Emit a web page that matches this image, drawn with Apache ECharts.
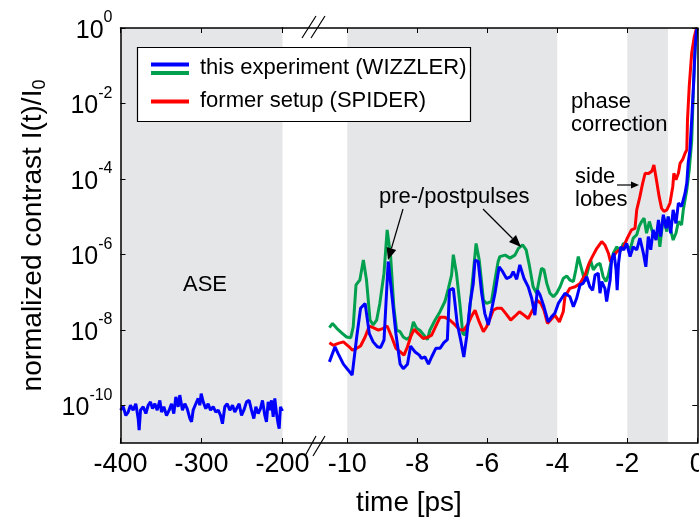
<!DOCTYPE html>
<html><head><meta charset="utf-8">
<script src="https://cdn.jsdelivr.net/npm/echarts@6/dist/echarts.min.js"></script>
<style>html,body{margin:0;padding:0;background:#fff}#c{width:699px;height:521px}</style>
</head><body><div id="c"></div>
<script>
// ---- data (time in ps, contrast stored as log10 of I(t)/I0) ----
const aseTime = [-400,-396.7,-393.4,-390.5,-387.7,-384.4,-381.1,-378.2,-377,-375.3,-372,-368.7,-365.8,-363,-360.5,-357.6,-354.7,-351.4,-349.4,-346.5,-343.2,-339.9,-337,-334.2,-331.7,-328.8,-326.8,-323.5,-320.6,-317.7,-314.4,-312.3,-310.3,-307,-304.1,-302.1,-300.4,-297.9,-294.7,-291.8,-288.9,-285.6,-282.3,-279.4,-276.5,-274.1,-271.2,-268.3,-265,-261.7,-258.9,-256.8,-253.5,-250.6,-247.7,-244.4,-241.2,-238.3,-235.4,-232.9,-230,-227.2,-224.7,-221.8,-219.8,-217.7,-215.7,-213.6,-211.5,-209.5,-207.4,-205.4,-204.1,-202.5,-200.8,-200];
const aseLog = [-10.13,-10.04,-10.27,-10.18,-10.00,-10.13,-9.96,-10.35,-10.66,-10.13,-10.04,-10.22,-10.00,-9.91,-10.09,-9.96,-10.13,-9.87,-10.18,-10.04,-10.27,-10.13,-9.96,-10.22,-9.78,-10.04,-9.73,-10.13,-9.96,-10.09,-10.35,-10.44,-10.13,-9.96,-9.82,-10.00,-9.69,-9.91,-10.09,-9.96,-10.13,-10.04,-10.18,-10.13,-10.27,-10.49,-10.04,-9.96,-10.13,-10.00,-10.18,-10.13,-9.96,-10.27,-10.13,-9.91,-9.87,-10.13,-10.35,-10.04,-10.22,-10.09,-9.87,-10.27,-10.44,-9.91,-10.13,-9.87,-10.31,-9.82,-10.22,-10.49,-10.62,-10.04,-10.13,-10.10];

const greenTime = [-10.51,-10.42,-10.30,-10.16,-10.02,-9.90,-9.83,-9.75,-9.64,-9.54,-9.45,-9.35,-9.26,-9.16,-9.07,-8.95,-8.86,-8.76,-8.67,-8.59,-8.49,-8.40,-8.30,-8.21,-8.11,-8.02,-7.92,-7.81,-7.71,-7.64,-7.49,-7.35,-7.21,-7.11,-7.02,-6.97,-6.88,-6.78,-6.70,-6.64,-6.54,-6.42,-6.32,-6.23,-6.11,-6.02,-5.88,-5.78,-5.69,
  -5.64,-5.49,-5.35,-5.21,-5.11,-4.99,-4.89,-4.80,-4.69,-4.59,-4.51,-4.45,-4.38,-4.30,-4.21,-4.11,-4.02,-3.92,-3.83,-3.73,-3.64,-3.54,-3.47,-3.40,-3.30,-3.21,-3.11,-3.05,-2.97,-2.87,-2.78,-2.69,-2.61,-2.54,-2.48,-2.40,-2.30,-2.21,-2.11,-2.02,-1.92,-1.83,-1.73,-1.66,-1.59,-1.52,-1.45,-1.37,-1.30,-1.21,-1.11,-1.07,-0.97,-0.87,-0.83,-0.76,-0.69,-0.61,-0.54,-0.45,-0.40,-0.30,-0.23,-0.16,-0.11,-0.06,-0.02,0];
const greenLog = [-7.94,-7.83,-7.96,-8.08,-8.19,-8.21,-7.92,-6.81,-6.68,-6.15,-6.68,-7.74,-7.87,-7.74,-7.30,-6.50,-5.35,-6.06,-7.39,-8.01,-8.05,-8.19,-8.25,-8.19,-7.79,-7.96,-8.02,-8.14,-8.26,-8.01,-7.74,-7.52,-7.25,-6.90,-6.55,-6.01,-6.50,-7.34,-8.10,-8.14,-7.83,-6.68,-5.71,-6.15,-7.21,-7.30,-7.25,-6.68,-6.19,
  -6.06,-6.02,-6.10,-6.02,-5.84,-5.75,-5.88,-6.28,-6.86,-7.03,-6.64,-6.37,-6.41,-6.77,-7.03,-7.12,-7.03,-6.86,-6.64,-6.57,-6.68,-6.72,-6.41,-6.06,-6.41,-6.72,-6.37,-6.15,-6.41,-6.28,-6.24,-6.59,-6.72,-6.55,-6.28,-5.97,-5.80,-5.93,-5.71,-5.75,-5.88,-5.57,-5.48,-5.26,-5.13,-5.04,-5.44,-5.13,-5.35,-5.57,-5.44,-5.80,-5.00,-5.40,-5.00,-5.35,-5.62,-5.44,-5.13,-5.22,-4.82,-4.29,-3.76,-3.00,-1.60,-0.50,-0.05,0];

const redTime = [-10.51,-10.40,-10.26,-10.11,-9.97,-9.85,-9.73,-9.62,-9.49,-9.37,-9.26,-9.11,-8.97,-8.86,-8.73,-8.61,-8.49,-8.38,-8.28,-8.19,-8.09,-7.97,-7.83,-7.68,-7.59,-7.47,-7.35,-7.21,-7.07,-6.92,-6.80,-6.67,-6.54,-6.45,-6.35,-6.23,-6.11,-6.02,-5.92,-5.83,-5.73,-5.59,-5.47,-5.33,-5.21,-5.08,-4.95,-4.83,-4.68,-4.59,-4.47,-4.38,-4.28,-4.19,-4.07,-3.94,-3.83,-3.78,
  -3.64,-3.49,-3.35,-3.21,-3.11,-3.02,-2.87,-2.73,-2.64,-2.54,-2.48,-2.40,-2.30,-2.21,-2.11,-2.00,-1.88,-1.78,-1.73,-1.64,-1.56,-1.49,-1.40,-1.30,-1.24,-1.16,-1.09,-1.02,-0.95,-0.87,-0.78,-0.70,-0.67,-0.61,-0.54,-0.49,-0.42,-0.35,-0.30,-0.28,-0.23,-0.16,-0.09,-0.03,0];
const redLog = [-8.34,-8.41,-8.36,-8.32,-8.43,-8.54,-8.49,-8.43,-8.19,-7.90,-7.94,-8.01,-7.96,-7.90,-8.19,-8.49,-8.58,-8.67,-8.45,-8.19,-7.99,-8.10,-8.23,-8.19,-8.14,-7.90,-7.67,-7.67,-7.74,-7.87,-7.99,-8.01,-7.83,-7.64,-7.48,-7.79,-8.05,-7.92,-7.70,-7.48,-7.43,-7.43,-7.57,-7.74,-7.64,-7.52,-7.61,-7.70,-7.43,-7.21,-7.30,-7.48,-7.83,-7.74,-7.61,-7.79,-7.52,-7.12,
  -6.90,-6.86,-6.77,-6.55,-6.28,-6.10,-5.84,-5.66,-5.75,-5.97,-6.19,-6.06,-5.93,-5.88,-5.80,-5.57,-5.35,-5.31,-4.82,-4.47,-4.11,-3.85,-3.86,-3.80,-3.63,-4.07,-4.47,-4.78,-4.86,-4.82,-4.64,-4.20,-3.85,-4.02,-3.85,-3.58,-3.49,-3.32,-3.23,-2.43,-1.54,-0.66,-0.25,-0.03,0];

const blueTime = [-10.51,-10.35,-10.26,-10.11,-9.97,-9.86,-9.73,-9.62,-9.49,-9.37,-9.26,-9.14,-9.05,-8.95,-8.83,-8.73,-8.61,-8.49,-8.40,-8.28,-8.19,-8.07,-7.94,-7.88,-7.78,-7.68,-7.59,-7.47,-7.35,-7.24,-7.14,-7.08,-6.97,-6.86,-6.76,-6.67,-6.59,-6.49,-6.40,-6.35,-6.26,-6.16,-6.07,-5.97,-5.88,-5.78,-5.66,-5.56,-5.45,-5.33,-5.26,-5.16,-5.07,-4.95,-4.83,-4.73,-4.64,-4.57,-4.49,-4.38,-4.26,-4.16,-4.07,-3.97,-3.88,-3.78,
  -3.64,-3.54,-3.45,-3.35,-3.26,-3.16,-3.07,-2.99,-2.92,-2.83,-2.78,-2.73,-2.64,-2.59,-2.54,-2.49,-2.45,-2.38,-2.32,-2.29,-2.25,-2.19,-2.10,-2.02,-1.92,-1.83,-1.73,-1.64,-1.54,-1.47,-1.40,-1.33,-1.26,-1.18,-1.11,-1.05,-0.97,-0.89,-0.83,-0.76,-0.69,-0.61,-0.54,-0.45,-0.35,-0.30,-0.26,-0.21,-0.16,-0.11,-0.07,-0.03,0];
const blueLog = [-8.85,-8.45,-8.63,-8.91,-9.07,-9.20,-8.19,-7.43,-7.30,-8.10,-8.32,-8.45,-8.47,-8.27,-6.19,-7.03,-8.10,-8.91,-9.03,-8.91,-8.43,-8.58,-8.67,-8.76,-8.72,-8.91,-8.72,-8.49,-8.49,-8.34,-8.26,-6.95,-6.90,-7.83,-8.27,-8.72,-8.19,-7.30,-6.77,-6.15,-6.19,-7.03,-7.57,-7.87,-7.48,-7.03,-6.33,-6.46,-6.64,-6.59,-6.46,-6.66,-6.28,-6.64,-6.86,-7.17,-7.61,-6.95,-7.08,-7.39,-7.79,-7.65,-7.56,-7.30,-7.17,-7.03,
  -7.12,-7.39,-7.17,-6.81,-6.77,-6.59,-6.86,-6.95,-6.55,-6.50,-7.03,-6.72,-6.90,-7.25,-6.95,-6.68,-6.15,-5.97,-6.41,-6.95,-6.24,-5.80,-5.88,-5.71,-6.06,-5.80,-5.88,-5.57,-5.97,-6.33,-5.53,-5.88,-5.35,-5.62,-5.09,-5.53,-4.95,-5.31,-5.00,-5.44,-4.82,-5.18,-4.64,-4.73,-4.38,-4.11,-3.58,-3.23,-2.43,-1.54,-0.66,-0.10,0];

// axis ticks
const xLeftTicks = [-400, -300, -200];
const xRightTicks = [-10, -8, -6, -4, -2, 0];
const yTickExps = [-10, -8, -6, -4, -2, 0];
// shaded regions (ps)
const bandLeft = [-400, -200];
const bandsRight = [[-10, -4], [-2, -0.84]];

// ---- chart ----
const FONT = '"Liberation Sans", Arial, Helvetica, sans-serif';
const BLUE = '#0000ff', GREEN = '#00a04f', RED = '#ff0000', GRAY = '#e5e6e8';
const pairs = (ts, es) => ts.map((t, i) => [t, Math.pow(10, es[i])]);

const lineCol = {color: '#000', width: 1.5};
const tickCfg = (vals) => Object.assign({show: true, inside: true, length: 5, lineStyle: {color: '#000', width: 1}}, vals ? {customValues: vals} : {});
const xLabel = (vals) => Object.assign({show: true, fontSize: 27, color: '#000', margin: 8, fontFamily: FONT}, vals ? {customValues: vals} : {});

const chart = echarts.init(document.getElementById('c'), null, {renderer: 'canvas'});
const option = {
  animation: false,
  backgroundColor: '#fff',
  textStyle: {fontFamily: FONT},
  grid: [
    {left: 120.5, top: 28, width: 162, height: 415, containLabel: false, outerBoundsMode: 'none'},
    {left: 282.5, top: 28, width: 414.8, height: 415, containLabel: false, outerBoundsMode: 'none'}
  ],
  xAxis: [
    {gridIndex: 0, type: 'value', position: 'bottom', min: -400, max: -200, interval: 100, z: 5,
     axisLine: {show: true, onZero: false, lineStyle: lineCol}, axisTick: tickCfg(), axisLabel: xLabel(), splitLine: {show: false}},
    {gridIndex: 1, type: 'value', position: 'bottom', min: -11.85, max: 0, z: 5,
     axisLine: {show: true, onZero: false, lineStyle: lineCol}, axisTick: tickCfg(xRightTicks), axisLabel: xLabel(xRightTicks), splitLine: {show: false}},
    {gridIndex: 0, type: 'value', position: 'top', min: -400, max: -200, interval: 100, z: 5,
     axisLine: {show: true, onZero: false, lineStyle: lineCol}, axisTick: tickCfg(), axisLabel: {show: false}, splitLine: {show: false}},
    {gridIndex: 1, type: 'value', position: 'top', min: -11.85, max: 0, z: 5,
     axisLine: {show: true, onZero: false, lineStyle: lineCol}, axisTick: tickCfg(xRightTicks), axisLabel: {show: false}, splitLine: {show: false}}
  ],
  yAxis: [
    {gridIndex: 0, type: 'log', logBase: 10, min: 1e-11, max: 1, position: 'right', show: false},
    {gridIndex: 0, type: 'value', min: -11, max: 0, position: 'left', z: 5,
     axisLine: {show: true, onZero: false, lineStyle: lineCol}, axisTick: tickCfg(yTickExps),
     axisLabel: {show: true, customValues: yTickExps, margin: 8, color: '#000',
       formatter: v => '{b|10}{s|' + v + '}',
       rich: {b: {fontSize: 25, fontFamily: FONT, color: '#000', padding: [6, 0, 0, 0]},
              s: {fontSize: 16, fontFamily: FONT, color: '#000', padding: [0, 0, 20, 0]}}},
     splitLine: {show: false},
     name: 'normalized contrast I(t)/I{u|0}', nameLocation: 'middle', nameGap: 71, nameRotate: 90,
     nameTextStyle: {fontSize: 28, color: '#000', fontFamily: FONT,
       rich: {u: {fontSize: 18, fontFamily: FONT, color: '#000', padding: [14, 0, 0, 0]}}}},
    {gridIndex: 1, type: 'log', logBase: 10, min: 1e-11, max: 1, position: 'left', show: false},
    {gridIndex: 1, type: 'value', min: -11, max: 0, position: 'right', z: 5,
     axisLine: {show: true, onZero: false, lineStyle: lineCol}, axisTick: tickCfg(yTickExps),
     axisLabel: {show: false}, splitLine: {show: false}}
  ],
  series: [
    {type: 'line', name: 'ASE', xAxisIndex: 0, yAxisIndex: 0, data: pairs(aseTime, aseLog),
     symbol: 'none', showSymbol: false, lineStyle: {color: BLUE, width: 3}, itemStyle: {color: BLUE}, z: 2,
     markArea: {silent: true, itemStyle: {color: GRAY}, data: [[{xAxis: bandLeft[0]}, {xAxis: bandLeft[1]}]]}},
    {type: 'line', name: 'this experiment (WIZZLER) - green', xAxisIndex: 1, yAxisIndex: 2, data: pairs(greenTime, greenLog),
     symbol: 'none', showSymbol: false, lineStyle: {color: GREEN, width: 3}, itemStyle: {color: GREEN}, z: 2,
     markArea: {silent: true, itemStyle: {color: GRAY}, data: bandsRight.map(b => [{xAxis: b[0]}, {xAxis: b[1]}])}},
    {type: 'line', name: 'former setup (SPIDER)', xAxisIndex: 1, yAxisIndex: 2, data: pairs(redTime, redLog),
     symbol: 'none', showSymbol: false, lineStyle: {color: RED, width: 3}, itemStyle: {color: RED}, z: 2},
    {type: 'line', name: 'this experiment (WIZZLER)', xAxisIndex: 1, yAxisIndex: 2, data: pairs(blueTime, blueLog),
     symbol: 'none', showSymbol: false, lineStyle: {color: BLUE, width: 3}, itemStyle: {color: BLUE}, z: 2}
  ],
  graphic: [
    // axis break marks
    {type: 'line', shape: {x1: 302, y1: 38, x2: 316, y2: 16}, style: {stroke: '#000', lineWidth: 1.2}, z: 20},
    {type: 'line', shape: {x1: 311, y1: 38, x2: 325, y2: 16}, style: {stroke: '#000', lineWidth: 1.2}, z: 20},
    {type: 'line', shape: {x1: 305, y1: 456, x2: 316, y2: 436}, style: {stroke: '#000', lineWidth: 1.2}, z: 20},
    {type: 'line', shape: {x1: 313, y1: 456, x2: 325, y2: 436}, style: {stroke: '#000', lineWidth: 1.2}, z: 20},
    // legend
    {type: 'rect', shape: {x: 137.5, y: 47.5, width: 333, height: 74}, style: {fill: '#fff', stroke: '#000', lineWidth: 1.2}, z: 20},
    {type: 'line', shape: {x1: 151, y1: 64.5, x2: 189, y2: 64.5}, style: {stroke: BLUE, lineWidth: 4}, z: 21},
    {type: 'line', shape: {x1: 151, y1: 73, x2: 189, y2: 73}, style: {stroke: GREEN, lineWidth: 4}, z: 21},
    {type: 'line', shape: {x1: 151, y1: 101.5, x2: 189, y2: 101.5}, style: {stroke: RED, lineWidth: 4}, z: 21},
    {type: 'text', x: 200, y: 68, z: 21, style: {text: 'this experiment (WIZZLER)', font: '22px ' + FONT, fill: '#000', textAlign: 'left', align: 'left', textVerticalAlign: 'middle', verticalAlign: 'middle'}},
    {type: 'text', x: 200, y: 101, z: 21, style: {text: 'former setup (SPIDER)', font: '22px ' + FONT, fill: '#000', textAlign: 'left', align: 'left', textVerticalAlign: 'middle', verticalAlign: 'middle'}},
    // x axis title
    {type: 'text', x: 409, y: 503, z: 21, style: {text: 'time [ps]', font: '28px ' + FONT, fill: '#000', textAlign: 'center', align: 'center', textVerticalAlign: 'middle', verticalAlign: 'middle'}},
    // annotations
    {type: 'text', x: 205, y: 285, z: 21, style: {text: 'ASE', font: '22px ' + FONT, fill: '#000', textAlign: 'center', align: 'center', textVerticalAlign: 'middle', verticalAlign: 'middle'}},
    {type: 'text', x: 379, y: 197, z: 21, style: {text: 'pre-/postpulses', font: '22px ' + FONT, fill: '#000', textAlign: 'left', align: 'left', textVerticalAlign: 'middle', verticalAlign: 'middle'}},
    {type: 'text', x: 571, y: 102, z: 21, style: {text: 'phase', font: '22px ' + FONT, fill: '#000', textAlign: 'left', align: 'left', textVerticalAlign: 'middle', verticalAlign: 'middle'}},
    {type: 'text', x: 571, y: 125, z: 21, style: {text: 'correction', font: '22px ' + FONT, fill: '#000', textAlign: 'left', align: 'left', textVerticalAlign: 'middle', verticalAlign: 'middle'}},
    {type: 'text', x: 575, y: 177, z: 21, style: {text: 'side', font: '22px ' + FONT, fill: '#000', textAlign: 'left', align: 'left', textVerticalAlign: 'middle', verticalAlign: 'middle'}},
    {type: 'text', x: 575, y: 200, z: 21, style: {text: 'lobes', font: '22px ' + FONT, fill: '#000', textAlign: 'left', align: 'left', textVerticalAlign: 'middle', verticalAlign: 'middle'}},
    // arrows
    {type: 'line', shape: {x1: 403, y1: 209, x2: 391.4, y2: 248.5}, style: {stroke: '#000', lineWidth: 1.2}, z: 21},
    {type: 'polygon', shape: {points: [[388, 260], [396.2, 249.9], [386.6, 247.1]]}, style: {fill: '#000'}, z: 21},
    {type: 'line', shape: {x1: 483, y1: 209, x2: 512.5, y2: 238.5}, style: {stroke: '#000', lineWidth: 1.2}, z: 21},
    {type: 'polygon', shape: {points: [[521, 247], [509, 242], [516, 235]]}, style: {fill: '#000'}, z: 21},
    {type: 'line', shape: {x1: 617, y1: 185, x2: 632, y2: 185}, style: {stroke: '#000', lineWidth: 1.2}, z: 21},
    {type: 'polygon', shape: {points: [[639, 185], [631, 181.5], [631, 188.5]]}, style: {fill: '#000'}, z: 21}
  ]
};
chart.setOption(option);
</script>
</body></html>
